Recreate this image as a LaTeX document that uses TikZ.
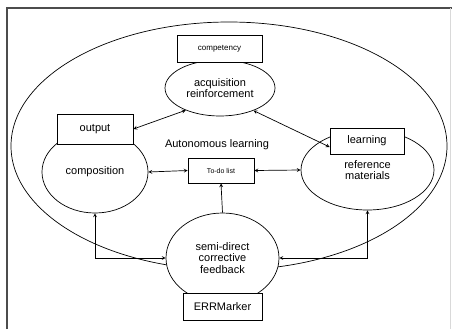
\documentclass[tikz,border=0pt]{standalone}
\usepackage{fontspec}
\setmainfont{Liberation Sans}
\usetikzlibrary{shapes.geometric}
\begin{document}
\begin{tikzpicture}[x=1pt,y=-1pt,>=stealth,line width=0.7pt,
	oval/.style={draw,ellipse,fill=white,inner sep=0pt,align=center,font=\fontsize{11}{12.5}\selectfont},
	tag/.style={draw,rectangle,fill=white,inner sep=0pt,font=\fontsize{11}{12.5}\selectfont}]
			\useasboundingbox (0,0) rectangle (452,329);
			\draw[line width=1.3pt,color=black!70] (7,329)--(7,8)--(452,8);
			\draw[color=black!15] (450,8)--(450,329);
			% outer ring
			\draw (229,146) ellipse (218 and 124);
			\node at (217,145) {\fontsize{11}{12.5}\selectfont Autonomous learning};
			% ovals with their tags on top
			\node[oval,minimum width=110,minimum height=56] (acq) at (220,88) {acquisition\\[-1pt]reinforcement};
			\node[tag,minimum width=85,minimum height=27,font=\fontsize{8}{9}\selectfont] (compet) at (219.5,48.5) {competency};
			\node[oval,minimum width=106,minimum height=82] (comp) at (95,172) {composition};
			\node[tag,minimum width=76,minimum height=30] (out) at (95,129) {output};
			\node[oval,minimum width=133,minimum height=80] (ref) at (367.5,170) {reference\\[-1pt]materials};
			\node[tag,minimum width=74,minimum height=26] (learn) at (367,141) {learning};
			\node[tag,minimum width=66,minimum height=25,font=\fontsize{7}{8}\selectfont] (todo) at (221,170.5) {To-do list};
			\node[oval,minimum width=113,minimum height=90] (fb) at (222.5,258) {semi-direct\\[-1pt]corrective\\[-1pt]feedback};
			\node[tag,minimum width=79,minimum height=27] (err) at (222.5,306.5) {ERRMarker};
			% connectors
			\draw[<->] (out.east)--(acq.213);
			\draw[<->] (acq.326)--([yshift=-6pt]learn.west);
			\draw[<->] (comp.east)--(todo.west);
			\draw[<->] (todo.east)--(ref.west);
			\draw[->] (fb.north)--(todo.south);
			\draw[<->] (fb.west)-|(comp.south);
			\draw[<->] (fb.east)-|(ref.south);
			\end{tikzpicture}
\end{document}
